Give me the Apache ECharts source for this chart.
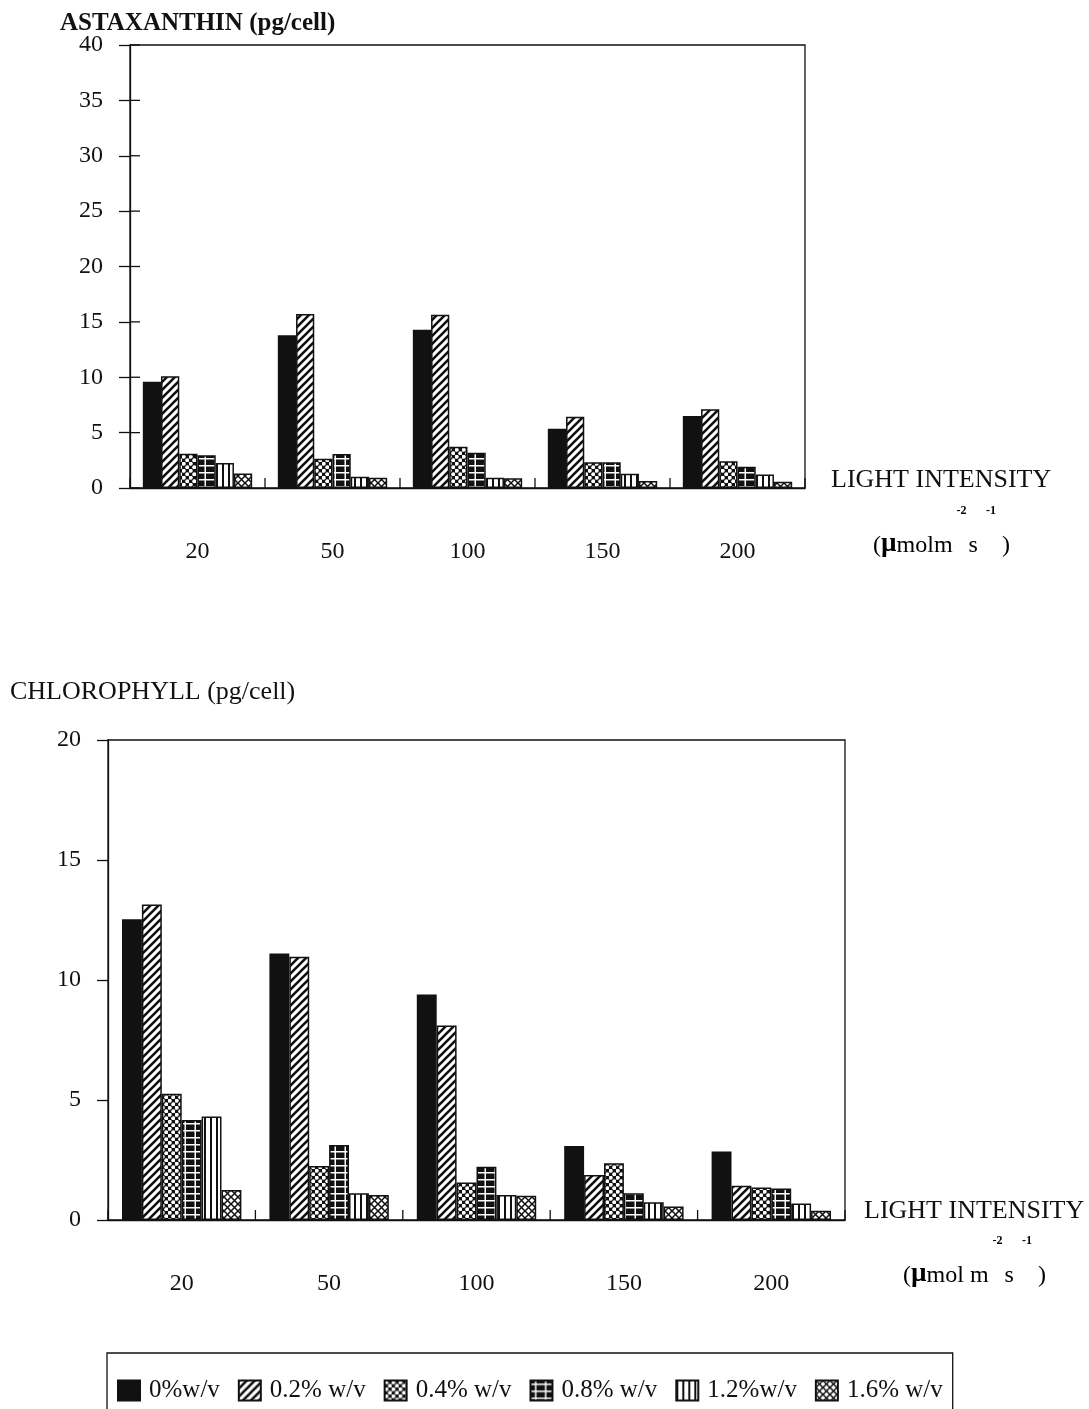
<!DOCTYPE html>
<html>
<head>
<meta charset="utf-8">
<script src="https://cdn.jsdelivr.net/npm/echarts@6/dist/echarts.min.js"></script>
<style>
html,body{margin:0;padding:0;background:#fff;}
#chart{width:1089px;height:1409px;}
</style>
</head>
<body>
<div id="chart"></div>
<script>
// ---- data ----
const categories = ['20', '50', '100', '150', '200'];
const seriesNames = ['0%w/v', '0.2% w/v', '0.4% w/v', '0.8% w/v', '1.2%w/v', '1.6% w/v'];

// Astaxanthin (pg/cell)
const astax_0  = [9.6, 13.8, 14.3, 5.35, 6.5];
const astax_02 = [10.1, 15.7, 15.65, 6.43, 7.1];
const astax_04 = [3.1, 2.65, 3.73, 2.32, 2.41];
const astax_08 = [2.95, 3.07, 3.19, 2.32, 1.92];
const astax_12 = [2.26, 1.02, 0.93, 1.29, 1.23];
const astax_16 = [1.3, 0.93, 0.87, 0.63, 0.57];

// Chlorophyll (pg/cell)
const chl_0  = [12.53, 11.1, 9.4, 3.08, 2.85];
const chl_02 = [13.15, 10.97, 8.1, 1.88, 1.43];
const chl_04 = [5.26, 2.25, 1.56, 2.36, 1.35];
const chl_08 = [4.17, 3.13, 2.22, 1.11, 1.31];
const chl_12 = [4.31, 1.11, 1.04, 0.74, 0.69];
const chl_16 = [1.25, 1.04, 1.01, 0.56, 0.39];

// tick values
const astaxTicks = [0, 5, 10, 15, 20, 25, 30, 35, 40];
const chlTicks = [0, 5, 10, 15, 20];
const astaxAxis = {min: 0, max: 40, interval: 5};
const chlAxis = {min: 0, max: 20, interval: 5};

// ---- patterns ----
function mk(w, h, draw) {
  const c = document.createElement('canvas');
  c.width = w; c.height = h;
  const g = c.getContext('2d');
  draw(g, w, h);
  return c;
}
const INK = '#111';
const patSolid = INK;
const patHatch = mk(8, 8, (g, w, h) => {
  g.fillStyle = '#fff'; g.fillRect(0, 0, w, h);
  g.strokeStyle = INK; g.lineWidth = 2.6;
  g.beginPath();
  g.moveTo(-2, 10); g.lineTo(10, -2);
  g.moveTo(-2, 2); g.lineTo(2, -2);
  g.moveTo(6, 10); g.lineTo(10, 6);
  g.stroke();
});
const patDots = mk(7, 7, (g, w, h) => {
  g.fillStyle = INK; g.fillRect(0, 0, w, h);
  g.fillStyle = '#fff';
  const pts = [[1.75, 1.75], [5.25, 5.25]];
  pts.forEach(p => { g.beginPath(); g.arc(p[0], p[1], 2.0, 0, Math.PI * 2); g.fill(); });
});
const patGrid = mk(10, 7, (g, w, h) => {
  g.fillStyle = INK; g.fillRect(0, 0, w, h);
  g.fillStyle = '#fff';
  g.fillRect(0, 3, w, 1.5);
  g.fillRect(4.5, 0, 1.5, h);
});
const patVert = mk(6, 6, (g, w, h) => {
  g.fillStyle = '#fff'; g.fillRect(0, 0, w, h);
  g.fillStyle = INK; g.fillRect(0, 0, 2, h);
});
const patCross = mk(7, 7, (g, w, h) => {
  g.fillStyle = '#fff'; g.fillRect(0, 0, w, h);
  g.strokeStyle = INK; g.lineWidth = 1.5;
  g.beginPath();
  g.moveTo(-1, -1); g.lineTo(8, 8);
  g.moveTo(-1, 8); g.lineTo(8, -1);
  g.stroke();
});
const fills = [
  patSolid,
  {image: patHatch, repeat: 'repeat'},
  {image: patDots, repeat: 'repeat'},
  {image: patGrid, repeat: 'repeat'},
  {image: patVert, repeat: 'repeat'},
  {image: patCross, repeat: 'repeat'}
];

const FONT = 'Liberation Serif';
const astaxData = [astax_0, astax_02, astax_04, astax_08, astax_12, astax_16];
const chlData = [chl_0, chl_02, chl_04, chl_08, chl_12, chl_16];

function makeSeries(dataArr, xi, yi) {
  return dataArr.map((d, i) => ({
    name: seriesNames[i],
    type: 'bar',
    xAxisIndex: xi,
    yAxisIndex: yi,
    data: d,
    barGap: '0%',
    barCategoryGap: '19%',
    itemStyle: {color: fills[i], borderColor: INK, borderWidth: 1.5},
    emphasis: {disabled: true},
    animation: false
  }));
}

const lineStyle = {color: INK, width: 1.3};
function xAxis(grid) {
  return {gridIndex: grid, type: 'category', data: categories, position: 'bottom',
     axisLine: {lineStyle: lineStyle}, axisTick: {length: 10, lineStyle: lineStyle},
     axisLabel: {margin: 52, fontSize: 24, fontFamily: FONT, color: INK}};
}
function yAxis(grid, ax) {
  return {gridIndex: grid, type: 'value', min: ax.min, max: ax.max, interval: ax.interval, position: 'left',
     axisLine: {show: true, lineStyle: lineStyle}, axisTick: {show: true, length: 11, lineStyle: lineStyle},
     splitLine: {show: false},
     axisLabel: {margin: 27, fontSize: 24, fontFamily: FONT, color: INK}};
}

// inner halves of the crossing ticks, positioned through the axes' scales
function innerXTicks(idx) {
  return {
    type: 'custom', xAxisIndex: idx, yAxisIndex: idx, silent: true, z: 6, animation: false,
    data: categories.map((c, i) => [i, 0]),
    encode: {x: 0, y: 1},
    renderItem: (params, api) => {
      const c = api.coord([api.value(0), 0]);
      const bw = api.size([1, 0])[0];
      const xs = [c[0] - bw / 2];
      if (params.dataIndex === categories.length - 1) xs.push(c[0] + bw / 2);
      return {type: 'group', children: xs.map(x => ({
        type: 'line', shape: {x1: x, y1: c[1] - 10, x2: x, y2: c[1]},
        style: {stroke: INK, lineWidth: 1.3}
      }))};
    }
  };
}
function innerYTicks(idx, ticks) {
  return {
    type: 'custom', xAxisIndex: idx, yAxisIndex: idx, silent: true, z: 6, animation: false,
    data: ticks.map(v => [0, v]),
    encode: {x: 0, y: 1},
    renderItem: (params, api) => {
      const y = api.coord([0, api.value(1)])[1];
      const x0 = params.coordSys.x;
      return {type: 'line', shape: {x1: x0, y1: y, x2: x0 + 10, y2: y},
        style: {stroke: INK, lineWidth: 1.3}};
    }
  };
}

const unitRich = {
  p: {fontSize: 24, fontFamily: FONT, color: INK, lineHeight: 53, verticalAlign: 'bottom'},
  mu: {fontSize: 27, fontFamily: FONT, fontWeight: 'bold', color: INK, lineHeight: 53, verticalAlign: 'bottom'},
  sup: {fontSize: 12, fontFamily: FONT, fontWeight: 'bold', color: INK, lineHeight: 14, verticalAlign: 'top', padding: [0, 2, 0, 4]},
  sup2: {fontSize: 12, fontFamily: FONT, fontWeight: 'bold', color: INK, lineHeight: 14, verticalAlign: 'top', padding: [0, 6, 0, 8]}
};

const option = {
  backgroundColor: '#fff',
  animation: false,
  grid: [
    {left: 130, top: 45, width: 675, height: 443, show: true, borderColor: INK, borderWidth: 1.3, backgroundColor: 'transparent'},
    {left: 108, top: 740, width: 737, height: 480, show: true, borderColor: INK, borderWidth: 1.3, backgroundColor: 'transparent'}
  ],
  xAxis: [xAxis(0), xAxis(1)],
  yAxis: [yAxis(0, astaxAxis), yAxis(1, chlAxis)],
  legend: {
    data: seriesNames,
    icon: 'rect',
    left: 107, top: 1353,
    itemWidth: 22, itemHeight: 20, itemGap: 18,
    padding: [25, 10, 40, 10],
    borderColor: INK, borderWidth: 1.3,
    textStyle: {fontSize: 25, fontFamily: FONT, color: INK, padding: [0, 0, 0, 4]},
    selectedMode: false
  },
  graphic: [
    {type: 'text', left: 60, top: 11, style: {text: 'ASTAXANTHIN (pg/cell)', fontSize: 25, fontWeight: 'bold', fontFamily: FONT, fill: INK}},
    {type: 'text', left: 10, top: 679, style: {text: 'CHLOROPHYLL (pg/cell)', fontSize: 26, fontFamily: FONT, fill: INK}},
    {type: 'text', left: 831, top: 467, style: {text: 'LIGHT INTENSITY', fontSize: 26, fontFamily: FONT, fill: INK}},
    {type: 'text', left: 864, top: 1198, style: {text: 'LIGHT INTENSITY', fontSize: 26, fontFamily: FONT, fill: INK}},
    {type: 'text', left: 873, top: 505, style: {text: '{p|(}{mu|µ}{p|molm}{sup|-2}{p|s}{sup2|-1}{p|)}', rich: unitRich}},
    {type: 'text', left: 903, top: 1235, style: {text: '{p|(}{mu|µ}{p|mol m}{sup|-2}{p|s}{sup2|-1}{p|)}', rich: unitRich}}
  ],
  series: [].concat(
    makeSeries(astaxData, 0, 0),
    makeSeries(chlData, 1, 1),
    [innerXTicks(0), innerXTicks(1), innerYTicks(0, astaxTicks)]
  )
};

const chart = echarts.init(document.getElementById('chart'), null, {renderer: 'canvas'});
chart.setOption(option);
</script>
</body>
</html>
